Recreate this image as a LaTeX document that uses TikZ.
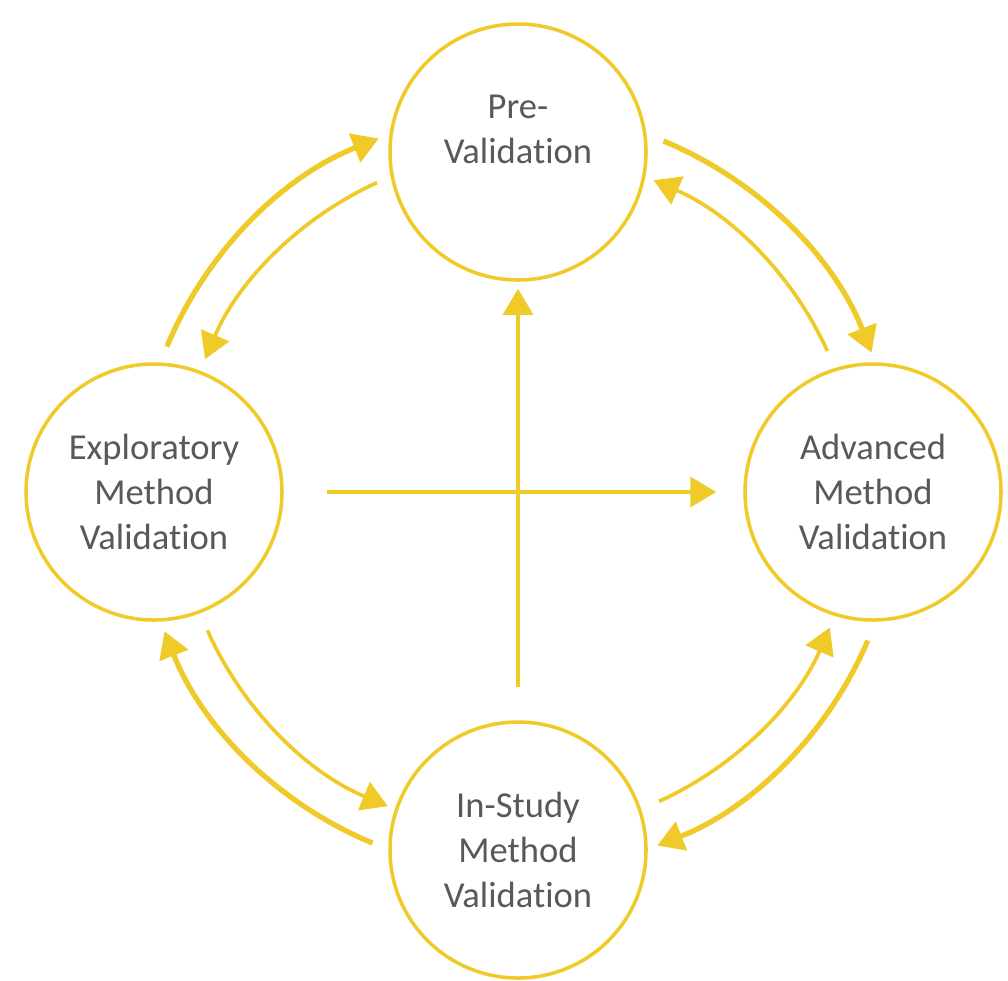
\documentclass[tikz,border=0pt]{standalone}
\usepackage{fontspec}
\setmainfont{Carlito}[RawFeature={-liga;-dlig;-calt;-clig}]
\usepackage{tikz}
\usepackage{xcolor}
\usetikzlibrary{calc,arrows.meta}
\definecolor{gold}{RGB}{240,202,40}
\definecolor{txtgray}{RGB}{89,89,89}

\begin{document}
\begin{tikzpicture}[roundnode/.style={circle, draw=gold, line width=1pt, fill=white, minimum size=2.56cm, inner sep=0pt, align=center, text=txtgray, font=\fontsize{10.4}{12.8}\selectfont}]
            \useasboundingbox (0,0) rectangle (10.08,9.80);
            \coordinate (hub) at (5.18,4.88);
            \node[roundnode] (P) at (5.18,8.28) {Pre-\\Validation\\~};
            \node[roundnode] (E) at (1.54,4.88) {Exploratory\\Method\\Validation};
            \node[roundnode] (A) at (8.73,4.88) {Advanced\\Method\\Validation};
            \node[roundnode] (S) at (5.18,1.30) {In-Study\\Method\\Validation};

            \tikzset{tip/.style={-{Triangle[length=0.26cm, width=0.30cm]}, draw=gold}}
            \tikzset{outer/.style={tip, line width=1.5pt}}
            \tikzset{inner/.style={tip, line width=1.05pt}}

            % straight links
            \draw[inner, shorten <=0.33cm, shorten >=0.07cm] (S) -- (P);
            \draw[inner, shorten <=0.43cm, shorten >=0.27cm] (E) -- (A);

            % outer ring
            \draw[outer] ($(hub)+(157.5:3.8)$) arc[start angle=157.5, end angle=111.5, radius=3.8];
            \draw[outer] ($(hub)+(67.5:3.8)$) arc[start angle=67.5, end angle=21.5, radius=3.8];
            \draw[outer] ($(hub)+(-23:3.8)$) arc[start angle=-23, end angle=-68.5, radius=3.8];
            \draw[outer] ($(hub)+(-112.5:3.8)$) arc[start angle=-112.5, end angle=-158.5, radius=3.8];

            % inner ring
            \draw[inner] ($(hub)+(114.5:3.4)$) arc[start angle=114.5, end angle=157, radius=3.4];
            \draw[inner] ($(hub)+(24.5:3.4)$) arc[start angle=24.5, end angle=66.5, radius=3.4];
            \draw[inner] ($(hub)+(-65.5:3.4)$) arc[start angle=-65.5, end angle=-23.5, radius=3.4];
            \draw[inner] ($(hub)+(-156:3.4)$) arc[start angle=-156, end angle=-112.5, radius=3.4];

        \end{tikzpicture}
\end{document}
